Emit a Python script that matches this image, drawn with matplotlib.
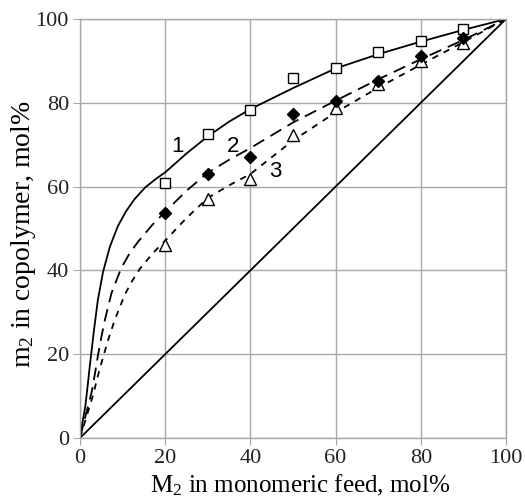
import matplotlib
matplotlib.use('Agg')
import matplotlib.pyplot as plt

plt.rcParams['font.family'] = ['Liberation Serif', 'DejaVu Serif']
plt.rcParams['mathtext.fontset'] = 'custom'
plt.rcParams['mathtext.rm'] = 'Liberation Serif'

# experimental points
feed = [20, 30, 40, 50, 60, 70, 80, 90]
exp_1 = [60.9, 72.5, 78.4, 85.8, 88.4, 92.1, 94.8, 97.5]
exp_2 = [53.8, 62.9, 67.1, 77.3, 80.4, 85.2, 91.2, 95.5]
exp_3 = [46.0, 57.0, 61.7, 72.2, 78.8, 84.4, 90.0, 94.3]

# fitted curves
curve_1_x = [0, 0.6, 1.25, 1.8, 2.3, 3.3, 4.2, 5.4, 7.0, 8.9, 10.8, 12.8, 15.3, 17.9, 20, 25, 30, 35,
             40, 50, 60, 70, 80, 90, 100]
curve_1_y = [0, 3.8, 7.6, 12.5, 17.2, 25.9, 33.0, 39.6, 45.6, 50.6, 54.1, 57.0, 59.8, 61.9, 63.4, 67.9,
             72.0, 75.5, 78.5, 83.5, 88.2, 91.6, 94.6, 97.4, 100]
curve_2_x = [0, 1.3, 2.7, 3.5, 4.2, 5.0, 5.8, 7.4, 9.7, 11.6, 13.6, 17.0, 20.3, 25, 30, 35, 40, 50,
             60, 70, 80, 90, 100]
curve_2_y = [0, 5.3, 10.8, 15.3, 19.6, 24.0, 28.0, 34.6, 40.6, 44.0, 46.8, 50.9, 54.3, 59.0, 63.3,
             66.4, 69.2, 75.3, 80.5, 85.6, 90.4, 95.0, 100]
curve_3_x = [0, 1.5, 3.0, 4.6, 6.6, 8.1, 10.5, 12.2, 14.0, 17.0, 19.9, 25, 30, 35, 40, 50, 60, 70,
             80, 90, 100]
curve_3_y = [0, 5.0, 10.0, 16.4, 23.4, 28.0, 34.2, 37.4, 40.3, 44.0, 47.0, 52.5, 57.3, 60.3, 63.0,
             71.0, 77.7, 83.6, 89.1, 94.5, 100]

ticks = [0, 20, 40, 60, 80, 100]

fig = plt.figure(figsize=(5.25, 5.0), dpi=100)
ax = fig.add_axes([80 / 525, 62 / 500, 426 / 525, 419 / 500])

ax.plot(curve_1_x, curve_1_y, color='black', lw=1.3, ls='-')
ax.plot(curve_2_x, curve_2_y, color='black', lw=1.3, ls=(0, (7, 4)))
ax.plot(curve_3_x, curve_3_y, color='black', lw=1.3, ls=(0, (3.5, 3.5)))
ax.plot([0, 100], [0, 100], color='black', lw=1.3)

ax.plot(feed, exp_1, ls='none', marker='s', ms=7.5, mfc='white', mec='black', mew=1.0)
ax.plot(feed, exp_3, ls='none', marker='^', ms=8, mfc='white', mec='black', mew=1.0)
ax.plot(feed, exp_2, ls='none', marker='D', ms=6.5, mfc='black', mec='black')

for txt, x, y in [('1', 22.8, 69.6), ('2', 36.0, 69.6), ('3', 45.8, 63.7)]:
    ax.text(x, y, txt, fontsize=16, family='Liberation Sans', ha='center', va='center')

ax.set_xlim(0, 100)
ax.set_ylim(0, 100)
ax.set_xticks(ticks)
ax.set_yticks(ticks)
ax.grid(True, color='#a8a8a8', lw=1.0)
ax.set_axisbelow(True)
for s in ax.spines.values():
    s.set_color('#a8a8a8')
    s.set_linewidth(1.0)
ax.tick_params(direction='out', length=5, color='#a8a8a8', labelsize=16, labelcolor='#222222', pad=3)

ax.set_xlabel(r'$\mathregular{M_2}$ in monomeric feed, mol%', fontsize=18)
ax.set_ylabel(r'$\mathregular{m_2}$ in copolymer, mol%', fontsize=20)
ax.xaxis.set_label_coords(0.516, -0.084)
ax.yaxis.set_label_coords(-0.098, 0.486)

fig.savefig('out.png', dpi=100)
